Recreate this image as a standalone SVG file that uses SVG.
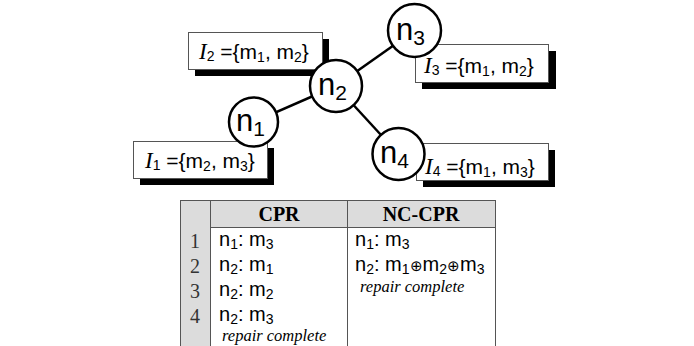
<svg xmlns="http://www.w3.org/2000/svg" width="694" height="346" viewBox="0 0 694 346">
<style>
.edge{stroke:#000;stroke-width:2.5;fill:none}
.node circle{fill:#fff;stroke:#000;stroke-width:2.5}
.nl{font-family:"Liberation Sans",Arial,sans-serif;font-size:31px;fill:#000}
.sub{font-size:21px}
.box{fill:#fff;stroke:#555;stroke-width:1}
.shadow{fill:#000}
.lt{font-family:"Liberation Sans",Arial,sans-serif;font-size:21px;fill:#000}
.it{font-family:"Liberation Serif","Times New Roman",serif;font-style:italic;font-size:23px}
.ls{font-size:14px}
.grid{stroke:#555;stroke-width:1;fill:none}
.gray{fill:#dcdcdc}
.hd{font-family:"Liberation Serif","Times New Roman",serif;font-weight:bold;font-size:20px;text-anchor:middle}
.num{font-family:"Liberation Serif","Times New Roman",serif;font-size:20px;text-anchor:middle;fill:#333}
.cell{font-family:"Liberation Sans",Arial,sans-serif;font-size:20px}
.cs{font-size:14px}
.op{font-size:15px}
.rc{font-family:"Liberation Serif","Times New Roman",serif;font-style:italic;font-size:16.5px}
</style>
<g id="label-I2">
<rect class="shadow" x="195" y="39" width="134" height="37"/>
<rect class="box" x="188.5" y="32.5" width="134" height="37"/>
<text class="lt" x="199" y="59"><tspan class="it">I</tspan><tspan class="ls" dy="2">2</tspan><tspan dy="-2"> ={m</tspan><tspan class="ls" dy="3">1</tspan><tspan dy="-3">, m</tspan><tspan class="ls" dy="3">2</tspan><tspan dy="-3">}</tspan></text>
</g>
<g id="label-I3">
<rect class="shadow" x="422" y="51" width="134" height="38"/>
<rect class="box" x="415.5" y="44.5" width="133" height="38"/>
<text class="lt" x="424" y="73"><tspan class="it">I</tspan><tspan class="ls" dy="2">3</tspan><tspan dy="-2"> ={m</tspan><tspan class="ls" dy="3">1</tspan><tspan dy="-3">, m</tspan><tspan class="ls" dy="3">2</tspan><tspan dy="-3">}</tspan></text>
</g>
<g id="label-I1">
<rect class="shadow" x="140" y="148" width="134" height="37"/>
<rect class="box" x="133.5" y="141.5" width="134" height="37"/>
<text class="lt" x="145" y="168"><tspan class="it">I</tspan><tspan class="ls" dy="2">1</tspan><tspan dy="-2"> ={m</tspan><tspan class="ls" dy="3">2</tspan><tspan dy="-3">, m</tspan><tspan class="ls" dy="3">3</tspan><tspan dy="-3">}</tspan></text>
</g>
<g id="label-I4">
<rect class="shadow" x="423" y="150" width="132" height="37"/>
<rect class="box" x="416.5" y="143.5" width="132" height="37"/>
<text class="lt" x="425" y="174"><tspan class="it">I</tspan><tspan class="ls" dy="2">4</tspan><tspan dy="-2"> ={m</tspan><tspan class="ls" dy="3">1</tspan><tspan dy="-3">, m</tspan><tspan class="ls" dy="3">3</tspan><tspan dy="-3">}</tspan></text>
</g>
<g id="connectors">
<line class="edge" x1="253.5" y1="122" x2="336" y2="86"/>
<line class="edge" x1="336" y1="86" x2="414" y2="31"/>
<line class="edge" x1="336" y1="86" x2="398.5" y2="154"/>
</g>
<g id="n1" class="node">
<circle cx="253.5" cy="122" r="24.5"/>
<text class="nl" x="236" y="131">n<tspan class="sub" dy="5">1</tspan></text>
</g>
<g id="n2" class="node">
<circle cx="336" cy="86" r="26"/>
<text class="nl" x="318" y="95">n<tspan class="sub" dy="5">2</tspan></text>
</g>
<g id="n3" class="node">
<circle cx="414.5" cy="30.5" r="26.5"/>
<text class="nl" x="396" y="40">n<tspan class="sub" dy="5">3</tspan></text>
</g>
<g id="n4" class="node">
<circle cx="398.5" cy="154" r="26"/>
<text class="nl" x="380" y="163">n<tspan class="sub" dy="5">4</tspan></text>
</g>
<g id="table">
<rect class="gray" x="180" y="200" width="30" height="146"/>
<rect class="gray" x="210" y="200" width="285" height="27"/>
<line class="grid" x1="180" y1="200.5" x2="495" y2="200.5"/>
<line class="grid" x1="210" y1="227.5" x2="495" y2="227.5"/>
<line class="grid" x1="180.5" y1="200" x2="180.5" y2="346"/>
<line class="grid" x1="210.5" y1="200" x2="210.5" y2="346"/>
<line class="grid" x1="347.5" y1="200" x2="347.5" y2="346"/>
<line class="grid" x1="495.5" y1="200" x2="495.5" y2="346"/>
<text class="hd" x="279" y="221">CPR</text>
<text class="hd" x="421" y="221">NC-CPR</text>
<text class="num" x="195" y="248">1</text>
<text class="num" x="195" y="273">2</text>
<text class="num" x="195" y="298">3</text>
<text class="num" x="195" y="323">4</text>
<text class="cell" x="219" y="246">n<tspan class="cs" dy="3">1</tspan><tspan dy="-3">: m</tspan><tspan class="cs" dy="3">3</tspan></text>
<text class="cell" x="219" y="271">n<tspan class="cs" dy="3">2</tspan><tspan dy="-3">: m</tspan><tspan class="cs" dy="3">1</tspan></text>
<text class="cell" x="219" y="296">n<tspan class="cs" dy="3">2</tspan><tspan dy="-3">: m</tspan><tspan class="cs" dy="3">2</tspan></text>
<text class="cell" x="219" y="321">n<tspan class="cs" dy="3">2</tspan><tspan dy="-3">: m</tspan><tspan class="cs" dy="3">3</tspan></text>
<text class="rc" x="222" y="341">repair complete</text>
<text class="cell" x="355" y="246">n<tspan class="cs" dy="3">1</tspan><tspan dy="-3">: m</tspan><tspan class="cs" dy="3">3</tspan></text>
<text class="cell" x="355" y="271">n<tspan class="cs" dy="3">2</tspan><tspan dy="-3">: m</tspan><tspan class="cs" dy="3">1</tspan><tspan class="op" dy="-3">⊕</tspan><tspan>m</tspan><tspan class="cs" dy="3">2</tspan><tspan class="op" dy="-3">⊕</tspan><tspan>m</tspan><tspan class="cs" dy="3">3</tspan></text>
<text class="rc" x="360" y="292">repair complete</text>
</g>
</svg>
